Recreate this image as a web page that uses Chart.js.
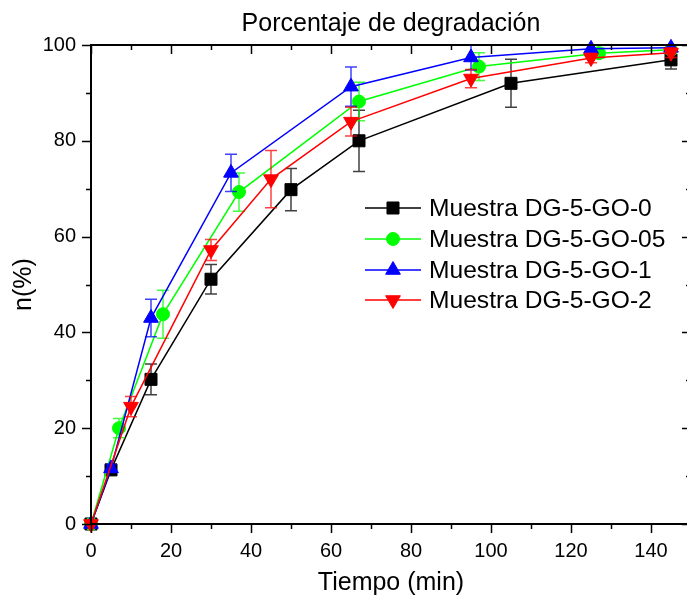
<!DOCTYPE html>
<html>
<head>
<meta charset="utf-8">
<script src="https://cdn.jsdelivr.net/npm/chart.js@4/dist/chart.umd.min.js"></script>
<style>
  html, body { margin: 0; padding: 0; background: #fff; overflow: hidden; width: 687px; height: 598px; }
  #wrap { width: 687px; height: 598px; overflow: hidden; position: relative; }
  #chart { position: absolute; left: 0; top: 0; }
</style>
</head>
<body>
<div id="wrap"><canvas id="chart" width="706" height="598"></canvas></div>
<script>
const titleText = "Porcentaje de degradación";
const xTitle = "Tiempo (min)";
const yTitle = "n(%)";

const seriesNames = ["Muestra DG-5-GO-0", "Muestra DG-5-GO-05", "Muestra DG-5-GO-1", "Muestra DG-5-GO-2"];

const tBlack = [0, 5, 15, 30, 50, 67, 105, 145];
const yBlack = [0, 11.3, 30.2, 51.1, 69.8, 80.0, 92.0, 96.9];
const eBlack = [0, 0.8, 3.2, 3.1, 4.4, 6.4, 5.0, 1.9];

const tGreen = [0, 7, 18, 37, 67, 97, 127, 145];
const yGreen = [0, 20.0, 43.8, 69.3, 88.2, 95.5, 98.3, 99.0];
const eGreen = [0, 2.0, 5.0, 4.0, 4.0, 2.9, 1.0, 0.8];

const tBlue = [0, 5, 15, 35, 65, 95, 125, 145];
const yBlue = [0, 11.6, 43.0, 73.3, 91.3, 97.4, 99.2, 99.4];
const eBlue = [0, 0.8, 3.9, 3.9, 4.1, 2.6, 0.8, 0.6];

const tRed = [0, 10, 30, 45, 65, 95, 125, 145];
const yRed = [0, 24.5, 57.2, 72.0, 84.0, 93.0, 97.3, 98.4];
const eRed = [0, 2.1, 2.2, 6.0, 3.0, 1.9, 1.0, 1.0];

const FONT = 'Arial, "Liberation Sans", sans-serif';

function toPoints(xs, ys) {
  return xs.map((x, i) => ({ x: x, y: ys[i] }));
}

function makeSet(name, xs, ys, errs, color, style, radius, rotation, order) {
  return {
    label: name,
    data: toPoints(xs, ys),
    errors: errs,
    borderColor: color,
    backgroundColor: color,
    borderWidth: 1.5,
    pointStyle: style,
    pointRadius: radius,
    pointRotation: rotation,
    pointBorderWidth: 1,
    pointBackgroundColor: color,
    pointBorderColor: color,
    tension: 0,
    clip: false,
    order: order
  };
}

// error bars, drawn under each series' own markers
const errorBars = {
  id: "errorBars",
  beforeDatasetDraw(chart, args) {
    const ds = chart.data.datasets[args.index];
    const xs = chart.scales.x, ys = chart.scales.y;
    const ctx = chart.ctx;
    ctx.save();
    ctx.strokeStyle = ds.borderColor;
    ctx.globalAlpha = 0.75;
    ctx.lineWidth = 1.5;
    ds.data.forEach((p, i) => {
      const e = ds.errors[i];
      if (!e) return;
      const px = xs.getPixelForValue(p.x);
      const top = ys.getPixelForValue(p.y + e);
      const bot = ys.getPixelForValue(p.y - e);
      ctx.beginPath();
      ctx.moveTo(px, top); ctx.lineTo(px, bot);
      ctx.moveTo(px - 6, top); ctx.lineTo(px + 6, top);
      ctx.moveTo(px - 6, bot); ctx.lineTo(px + 6, bot);
      ctx.stroke();
    });
    ctx.restore();
  }
};

// frame, ticks (out on left/bottom, in on top/right) and legend
const frameAndLegend = {
  id: "frameAndLegend",
  afterDraw(chart) {
    const ctx = chart.ctx;
    const a = chart.chartArea;
    const xs = chart.scales.x, ys = chart.scales.y;
    ctx.save();
    ctx.strokeStyle = "#000";
    ctx.lineWidth = 2;
    ctx.strokeRect(a.left, a.top, a.right - a.left, a.bottom - a.top);
    ctx.lineWidth = 1.5;
    ctx.beginPath();
    for (let v = 0; v <= 150; v += 10) {
      const px = Math.round(xs.getPixelForValue(v)) + 0.5;
      const len = v % 20 === 0 ? 9 : 5;
      ctx.moveTo(px, a.bottom); ctx.lineTo(px, a.bottom + len);
      ctx.moveTo(px, a.top); ctx.lineTo(px, a.top + len);
    }
    for (let v = 0; v <= 100; v += 10) {
      const py = Math.round(ys.getPixelForValue(v)) + 0.5;
      const len = v % 20 === 0 ? 9 : 5;
      ctx.moveTo(a.left - len, py); ctx.lineTo(a.left, py);
      ctx.moveTo(a.right - len, py); ctx.lineTo(a.right, py);
    }
    ctx.stroke();

    // legend
    const rowY = [208, 239, 270, 300];
    ctx.font = "24.6px " + FONT;
    ctx.textBaseline = "middle";
    ctx.textAlign = "left";
    chart.data.datasets.forEach((ds, i) => {
      const y = rowY[i];
      ctx.strokeStyle = ds.borderColor;
      ctx.fillStyle = ds.backgroundColor;
      ctx.lineWidth = 1.5;
      ctx.beginPath();
      ctx.moveTo(365, y); ctx.lineTo(421, y);
      ctx.stroke();
      ctx.lineWidth = 1;
      Chart.helpers.drawPoint(ctx, {
        pointStyle: ds.pointStyle,
        radius: ds.pointRadius,
        rotation: ds.pointRotation,
        borderWidth: 1
      }, 393, y);
      ctx.fillStyle = "#000";
      ctx.fillText(ds.label, 429, y + 1);
    });
    ctx.restore();
  }
};

new Chart(document.getElementById("chart"), {
  type: "line",
  data: {
    datasets: [
      makeSet(seriesNames[0], tBlack, yBlack, eBlack, "#000000", "rect", 8.5, 0, 4),
      makeSet(seriesNames[1], tGreen, yGreen, eGreen, "#00ff00", "circle", 6.5, 0, 3),
      makeSet(seriesNames[2], tBlue, yBlue, eBlue, "#0000ff", "triangle", 8.5, 0, 2),
      makeSet(seriesNames[3], tRed, yRed, eRed, "#ff0000", "triangle", 8.5, 180, 1)
    ]
  },
  options: {
    responsive: false,
    animation: false,
    events: [],
    layout: { padding: { left: 0, right: 9, top: 0, bottom: 0 } },
    plugins: {
      legend: { display: false },
      title: { display: false },
      tooltip: { enabled: false }
    },
    scales: {
      x: {
        type: "linear",
        position: "bottom",
        min: 0,
        max: 150,
        grid: { display: false, drawTicks: false },
        border: { display: false },
        ticks: {
          stepSize: 10,
          autoSkip: false,
          maxRotation: 0,
          padding: 15,
          color: "#000",
          font: { family: FONT, size: 20 },
          callback: v => (v % 20 === 0 ? v : "")
        },
        title: {
          display: true,
          text: xTitle,
          color: "#000",
          font: { family: FONT, size: 25 },
          padding: { top: 0, bottom: 0 }
        },
        afterFit(scale) { scale.height = 74; }
      },
      x2: {
        type: "linear",
        position: "top",
        min: 0,
        max: 150,
        grid: { display: false, drawTicks: false },
        border: { display: false },
        ticks: { display: false },
        title: {
          display: true,
          text: titleText,
          color: "#000",
          font: { family: FONT, size: 25 },
          padding: { top: 9, bottom: 0 }
        },
        afterFit(scale) { scale.height = 45; }
      },
      y: {
        type: "linear",
        min: 0,
        max: 100,
        grid: { display: false, drawTicks: false },
        border: { display: false },
        ticks: {
          stepSize: 10,
          autoSkip: false,
          padding: 15,
          color: "#000",
          font: { family: FONT, size: 20 },
          callback: v => (v % 20 === 0 ? v : "")
        },
        title: {
          display: true,
          text: yTitle,
          color: "#000",
          font: { family: FONT, size: 25 },
          padding: { top: 9, bottom: 0 }
        },
        afterFit(scale) { scale.width = 91; }
      }
    }
  },
  plugins: [errorBars, frameAndLegend]
});
</script>
</body>
</html>
